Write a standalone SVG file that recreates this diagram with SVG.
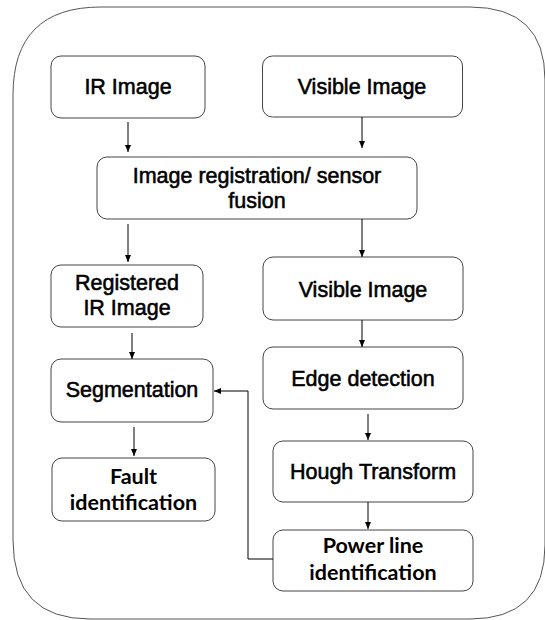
<svg xmlns="http://www.w3.org/2000/svg" width="545" height="620" viewBox="0 0 545 620">
<defs>
<marker id="ah" markerWidth="8" markerHeight="8" refX="7" refY="4" orient="auto" markerUnits="userSpaceOnUse">
<path d="M0,1 L7,4 L0,7 Z" fill="#000"/>
</marker>
<style>
.box{fill:#fff;stroke:#444;stroke-width:1}
.t{font-family:"Liberation Sans",Arial,sans-serif;font-size:21.5px;fill:#000;text-anchor:middle;stroke:#000;stroke-width:0.55px}
.c{font-family:Lato,"Open Sans",sans-serif;font-weight:bold;font-size:21.5px;fill:#000;text-anchor:middle}
.conn{fill:none;stroke:#000;stroke-width:1;marker-end:url(#ah)}
</style>
</defs>
<rect x="0" y="0" width="545" height="620" fill="#fff"/>
<path id="frame" d="M101,7 H470 Q545,7 545,80 V545 Q545,619 470,619 H90 Q13,619 13,540 V95 Q13,7 101,7 Z" fill="none" stroke="#555" stroke-width="1"/>
<g id="ir-image"><rect class="box" x="51" y="56" width="154" height="62" rx="10"/><text class="t" x="128" y="94">IR Image</text></g>
<g id="visible-image"><rect class="box" x="262.5" y="56" width="200" height="61" rx="10"/><text class="t" x="362" y="94">Visible Image</text></g>
<g id="registration"><rect class="box" x="97" y="157" width="320" height="62" rx="10"/><text class="t" x="257" y="183">Image registration/ sensor</text><text class="t" x="257" y="208">fusion</text></g>
<g id="registered-ir"><rect class="box" x="51" y="265" width="152" height="62" rx="10"/><text class="t" x="127" y="290">Registered</text><text class="t" x="127" y="315">IR Image</text></g>
<g id="visible-image-2"><rect class="box" x="263" y="257" width="200" height="63" rx="10"/><text class="t" x="363" y="297">Visible Image</text></g>
<g id="segmentation"><rect class="box" x="51" y="359" width="162" height="63" rx="10"/><text class="t" x="132" y="397">Segmentation</text></g>
<g id="edge-detection"><rect class="box" x="263" y="347" width="200" height="62" rx="10"/><text class="t" x="363" y="386">Edge detection</text></g>
<g id="hough"><rect class="box" x="273" y="441" width="200" height="61" rx="10"/><text class="t" x="373" y="479">Hough Transform</text></g>
<g id="fault"><rect class="box" x="52" y="458" width="163" height="63" rx="10"/><text class="c" x="133.5" y="484">Fault</text><text class="c" x="133.5" y="510">identification</text></g>
<g id="power-line"><rect class="box" x="273" y="530" width="200" height="61" rx="10"/><text class="c" x="373" y="553">Power line</text><text class="c" x="373" y="580">identification</text></g>
<g id="connectors">
<path class="conn" d="M128,122 V152"/>
<path class="conn" d="M362,117 V148"/>
<path class="conn" d="M128,224 V262"/>
<path class="conn" d="M362,219 V257"/>
<path class="conn" d="M132,333 V359"/>
<path class="conn" d="M362,320 V347"/>
<path class="conn" d="M368,414 V440"/>
<path class="conn" d="M134,427 V456"/>
<path class="conn" d="M368,502 V529"/>
<path class="conn" d="M273,559 H248 V391 H214"/>
</g>
</svg>
